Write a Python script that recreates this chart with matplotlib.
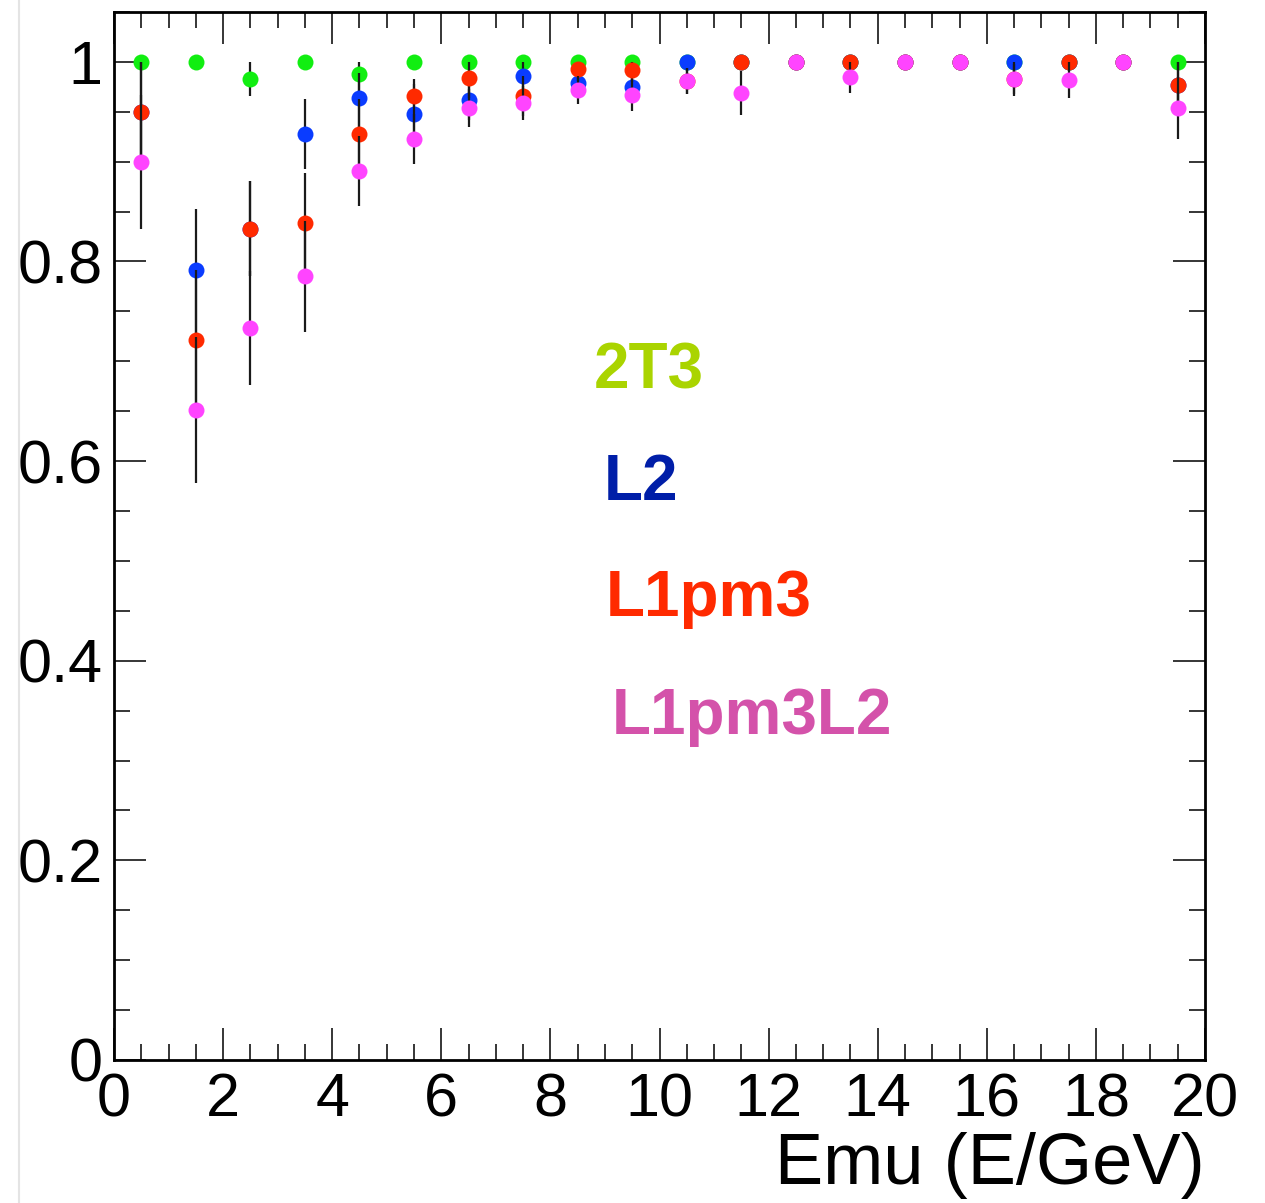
import matplotlib
matplotlib.use("Agg")
import matplotlib.pyplot as plt
from matplotlib.ticker import MultipleLocator, FuncFormatter
from matplotlib.lines import Line2D

# bin centres (E/GeV)
emu = [0.5, 1.5, 2.5, 3.5, 4.5, 5.5, 6.5, 7.5, 8.5, 9.5,
       10.5, 11.5, 12.5, 13.5, 14.5, 15.5, 16.5, 17.5, 18.5, 19.5]

# efficiencies per trigger
eff_2t3 = [1.0, 1.0, 0.983, 1.0, 0.988, 1.0, 1.0, 1.0, 1.0, 1.0,
           1.0, 1.0, 1.0, 1.0, 1.0, 1.0, 1.0, 1.0, 1.0, 1.0]
eff_l2 = [0.95, 0.791, 0.833, 0.928, 0.964, 0.948, 0.962, 0.986, 0.979, 0.975,
          1.0, 1.0, 1.0, 1.0, 1.0, 1.0, 1.0, 1.0, 1.0, 0.977]
eff_l1pm3 = [0.95, 0.721, 0.833, 0.839, 0.928, 0.966, 0.984, 0.966, 0.993, 0.992,
             0.981, 1.0, 1.0, 1.0, 1.0, 1.0, 0.983, 1.0, 1.0, 0.977]
eff_l1pm3l2 = [0.90, 0.651, 0.733, 0.785, 0.891, 0.923, 0.954, 0.959, 0.972, 0.967,
               0.981, 0.969, 1.0, 0.985, 1.0, 1.0, 0.983, 0.982, 1.0, 0.954]

# asymmetric errors (low, high)
err_2t3_lo = [0, 0, 0.017, 0, 0.02, 0, 0, 0, 0, 0, 0, 0, 0, 0, 0, 0, 0, 0, 0, 0]
err_2t3_hi = [0, 0, 0.017, 0, 0.012, 0, 0, 0, 0, 0, 0, 0, 0, 0, 0, 0, 0, 0, 0, 0]
err_l2_lo = [0.05, 0.063, 0.048, 0.035, 0.03, 0.03, 0.02, 0.014, 0.015, 0.015,
             0, 0, 0, 0, 0, 0, 0, 0, 0, 0.03]
err_l2_hi = [0.05, 0.062, 0.048, 0.035, 0.025, 0.03, 0.02, 0.014, 0.015, 0.015,
             0, 0, 0, 0, 0, 0, 0, 0, 0, 0.023]
err_l1pm3_lo = [0.05, 0.07, 0.048, 0.05, 0.035, 0.025, 0.02, 0.02, 0.012, 0.012,
                0.013, 0, 0, 0, 0, 0, 0.015, 0, 0, 0.03]
err_l1pm3_hi = [0.05, 0.07, 0.048, 0.05, 0.035, 0.017, 0.016, 0.02, 0.007, 0.008,
                0.013, 0, 0, 0, 0, 0, 0.015, 0, 0, 0.023]
err_l1pm3l2_lo = [0.067, 0.073, 0.057, 0.056, 0.035, 0.025, 0.019, 0.017, 0.014, 0.016,
                  0.013, 0.022, 0, 0.016, 0, 0, 0.017, 0.018, 0, 0.031]
err_l1pm3l2_hi = [0.067, 0.073, 0.057, 0.056, 0.035, 0.025, 0.019, 0.017, 0.014, 0.016,
                  0.013, 0.022, 0, 0.015, 0, 0, 0.017, 0.018, 0, 0.031]

series = [
    (eff_2t3, err_2t3_lo, err_2t3_hi, "#11ee11"),
    (eff_l2, err_l2_lo, err_l2_hi, "#0a3cff"),
    (eff_l1pm3, err_l1pm3_lo, err_l1pm3_hi, "#ff2a00"),
    (eff_l1pm3l2, err_l1pm3l2_lo, err_l1pm3l2_hi, "#ff44ff"),
]

labels = ["2T3", "L2", "L1pm3", "L1pm3L2"]
label_colors = ["#aad400", "#001ea8", "#ff2a00", "#d452aa"]
label_pos = [(8.8, 0.673), (8.98, 0.561), (9.02, 0.445), (9.13, 0.327)]

plt.rcParams["font.family"] = ["Liberation Sans", "DejaVu Sans"]

fig = plt.figure(figsize=(12.65, 12.03), dpi=100)
ax = fig.add_axes([0.0901, 0.1189, 0.8625, 0.8712])

for i, (vals, lo, hi, col) in enumerate(series):
    ax.errorbar(emu, vals, yerr=[lo, hi], fmt="o", color=col,
                markersize=11.5, markeredgewidth=0, ecolor="#1a1a1a",
                elinewidth=1.6, capsize=0, zorder=3 + i)

for text, col, (tx, ty) in zip(labels, label_colors, label_pos):
    ax.text(tx, ty, text, color=col, fontsize=46, fontweight="bold",
            ha="left", va="baseline")

ax.set_xlim(0, 20)
ax.set_ylim(0, 1.05)
ax.xaxis.set_major_locator(MultipleLocator(2))
ax.xaxis.set_minor_locator(MultipleLocator(0.5))
ax.yaxis.set_major_locator(MultipleLocator(0.2))
ax.yaxis.set_minor_locator(MultipleLocator(0.05))
ax.yaxis.set_major_formatter(FuncFormatter(lambda v, p: f"{v:g}"))
ax.xaxis.set_major_formatter(FuncFormatter(lambda v, p: f"{v:g}"))

ax.tick_params(which="both", direction="in", top=True, right=True, width=1.1)
ax.tick_params(which="major", length=23, labelsize=44)
ax.tick_params(which="minor", length=11.5)
ax.tick_params(axis="x", which="major", pad=9)
ax.tick_params(axis="y", which="major", pad=8)
for s in ax.spines.values():
    s.set_linewidth(2)

ax.set_xlabel("Emu (E/GeV)", fontsize=52, loc="right", labelpad=2)

fig.add_artist(Line2D([19 / 1265, 19 / 1265], [0, 1], color="#e4e4e4", linewidth=1.5))

plt.savefig("out.png", dpi=100)
plt.close()
